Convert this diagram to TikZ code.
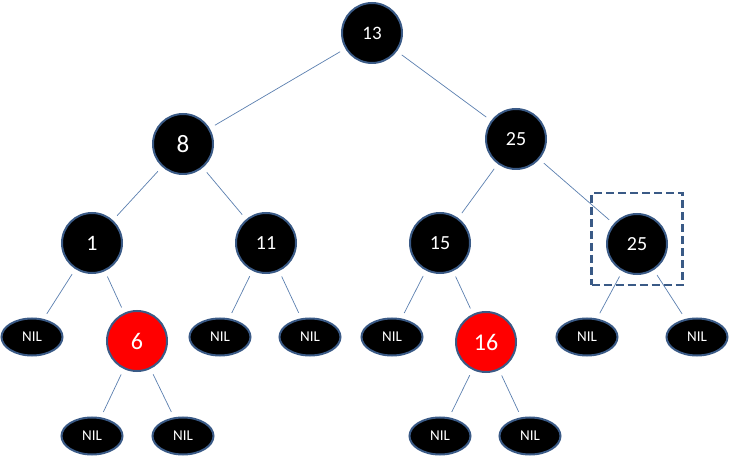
\documentclass[tikz,border=0pt]{standalone}
\usepackage{fontspec}
\setmainfont{Carlito}
\usetikzlibrary{shapes.geometric}
\definecolor{rim}{HTML}{3A5A86}
\definecolor{link}{HTML}{5B7FAF}
\newcommand{\fs}[1]{\fontsize{#1}{#1}\selectfont}
\begin{document}
\begin{tikzpicture}[x=1pt, y=-1pt,
    blacknode/.style={circle, fill=black, draw=rim, line width=2pt, minimum size=60pt, inner sep=0pt, text=white, font=\fs{20}},
    rednode/.style={blacknode, fill=red, font=\fs{24}},
    nilnode/.style={ellipse, fill=black, draw=rim, line width=2pt, minimum width=61pt, minimum height=37pt, inner sep=0pt, text=white, font=\fs{15}},
    edge/.style={draw=link, line width=0.7pt, shorten <=6pt, shorten >=6pt}]
    \useasboundingbox (0,0) rectangle (729,457);

    % Inner nodes
    \node[blacknode, font=\fs{19}] (n13) at (372,33) {13};
    \node[blacknode, font=\fs{25}] (n8) at (183,144) {8};
    \node[blacknode] (n25) at (516,139) {25};
    \node[blacknode, font=\fs{22}] (n1) at (92,243) {1};
    \node[blacknode] (n11) at (266,243) {11};
    \node[blacknode] (n15) at (440,243) {15};
    \node[blacknode] (n25b) at (637,244) {25};
    \node[rednode] (n6) at (137,341) {6};
    \node[rednode] (n16) at (486,342) {16};

    % NIL leaves
    \node[nilnode] (nil1) at (32,337) {NIL};
    \node[nilnode] (nil11a) at (220,337) {NIL};
    \node[nilnode] (nil11b) at (310,337) {NIL};
    \node[nilnode] (nil15) at (392,337) {NIL};
    \node[nilnode] (nil25a) at (587,337) {NIL};
    \node[nilnode] (nil25b) at (697,337) {NIL};
    \node[nilnode] (nil6a) at (92,436) {NIL};
    \node[nilnode] (nil6b) at (183,436) {NIL};
    \node[nilnode] (nil16a) at (440,436) {NIL};
    \node[nilnode] (nil16b) at (530,436) {NIL};

    % Selection box
    \node[draw=rim, line width=2.4pt, dash pattern=on 8pt off 4pt, minimum width=91pt, minimum height=92pt] (box) at (637,239) {};

    % Links
    \draw[edge] (n13) -- (n8);
    \draw[edge] (n13) -- (n25);
    \draw[edge] (n8) -- (n1);
    \draw[edge] (n8) -- (n11);
    \draw[edge] (n25) -- (n15);
    \draw[edge] (n25) -- (n25b);
    \draw[edge] (n1) -- (nil1);
    \draw[edge] (n1) -- (n6);
    \draw[edge] (n11) -- (nil11a);
    \draw[edge] (n11) -- (nil11b);
    \draw[edge] (n15) -- (nil15);
    \draw[edge] (n15) -- (n16);
    \draw[edge] (n25b) -- (nil25a);
    \draw[edge] (n25b) -- (nil25b);
    \draw[edge] (n6) -- (nil6a);
    \draw[edge] (n6) -- (nil6b);
    \draw[edge] (n16) -- (nil16a);
    \draw[edge] (n16) -- (nil16b);

\end{tikzpicture}
\end{document}
